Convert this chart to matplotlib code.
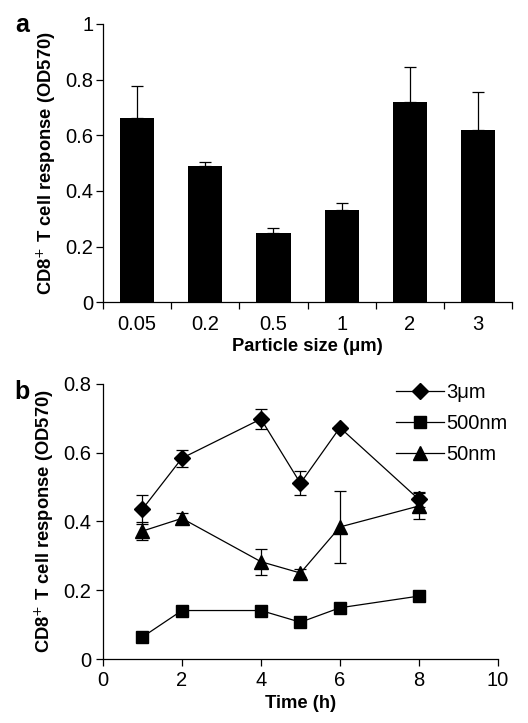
import matplotlib
matplotlib.use("Agg")
import matplotlib.pyplot as plt
from matplotlib.lines import Line2D
import numpy as np

plt.rcParams['font.family'] = ['Liberation Sans', 'DejaVu Sans']

# Panel a data
sizes = ["0.05", "0.2", "0.5", "1", "2", "3"]
bar_vals = [0.661, 0.489, 0.247, 0.331, 0.720, 0.619]
bar_err = [0.116, 0.014, 0.020, 0.027, 0.125, 0.137]

# Panel b data
times = [1, 2, 4, 5, 6, 8]
um3 = [0.436, 0.584, 0.698, 0.511, 0.673, 0.464]
um3_err = [0.042, 0.025, 0.028, 0.035, 0.006, 0.022]
nm500 = [0.064, 0.141, 0.141, 0.107, 0.149, 0.183]
nm500_err = [0.0, 0.0, 0.0, 0.0, 0.0, 0.0]
nm50 = [0.372, 0.409, 0.283, 0.250, 0.384, 0.445]
nm50_err = [0.025, 0.015, 0.038, 0.012, 0.104, 0.037]

TICK_FS = 14.5
LAB_FS = 13.2

fig = plt.figure(figsize=(5.28, 7.23), dpi=100)

# Panel a
ax1 = fig.add_axes([0.195, 0.582, 0.775, 0.385])
x = np.arange(len(sizes))
ax1.bar(x, bar_vals, width=0.5, color='black')
ax1.errorbar(x, bar_vals, yerr=[np.zeros(len(bar_err)), bar_err], fmt='none',
             ecolor='black', elinewidth=0.9, capsize=4, capthick=0.9)
ax1.set_xlim(-0.5, len(sizes) - 0.5)
ax1.set_ylim(0, 1)
ax1.set_yticks([0, 0.2, 0.4, 0.6, 0.8, 1])
ax1.set_yticklabels(["0", "0.2", "0.4", "0.6", "0.8", "1"])
ax1.set_xticks(x)
ax1.set_xticklabels(sizes)
ax1.tick_params(axis='x', which='major', length=0, pad=9)
ax1.set_xticks(np.arange(-0.5, len(sizes)), minor=True)
ax1.tick_params(axis='x', which='minor', length=5, width=0.9)
ax1.tick_params(axis='y', length=5, width=0.9, pad=2)
ax1.tick_params(labelsize=TICK_FS)
for s in ['top', 'right']:
    ax1.spines[s].set_visible(False)
for s in ['left', 'bottom']:
    ax1.spines[s].set_linewidth(0.9)
ax1.set_xlabel("Particle size (μm)", fontsize=LAB_FS, fontweight='bold', labelpad=3)
ax1.set_ylabel("CD8$^{+}$ T cell response (OD570)", fontsize=LAB_FS, fontweight='bold', labelpad=5)
fig.text(0.028, 0.965, "a", fontsize=18, fontweight='bold', va='center')

# Panel b
ax2 = fig.add_axes([0.195, 0.0885, 0.748, 0.3805])
ax2.errorbar(times, um3, yerr=um3_err, color='black', marker='D', markersize=8,
             linewidth=0.9, elinewidth=0.9, capsize=4, capthick=0.9)
ax2.errorbar(times, nm500, yerr=nm500_err, color='black', marker='s', markersize=9,
             linewidth=0.9, elinewidth=0.9, capsize=0)
ax2.errorbar(times, nm50, yerr=nm50_err, color='black', marker='^', markersize=10,
             linewidth=0.9, elinewidth=0.9, capsize=4, capthick=0.9)
ax2.set_xlim(0, 10)
ax2.set_ylim(0, 0.8)
ax2.set_xticks([0, 2, 4, 6, 8, 10])
ax2.set_yticks([0, 0.2, 0.4, 0.6, 0.8])
ax2.set_yticklabels(["0", "0.2", "0.4", "0.6", "0.8"])
ax2.tick_params(length=5, width=0.9, labelsize=TICK_FS)
for s in ['top', 'right']:
    ax2.spines[s].set_visible(False)
for s in ['left', 'bottom']:
    ax2.spines[s].set_linewidth(0.9)
ax2.set_xlabel("Time (h)", fontsize=LAB_FS, fontweight='bold', labelpad=4)
ax2.set_ylabel("CD8$^{+}$ T cell response (OD570)", fontsize=LAB_FS, fontweight='bold', labelpad=5)
handles = [
    Line2D([], [], color='black', marker='D', markersize=8, linewidth=0.9),
    Line2D([], [], color='black', marker='s', markersize=9, linewidth=0.9),
    Line2D([], [], color='black', marker='^', markersize=10, linewidth=0.9),
]
labels = ['3μm', '500nm', '50nm']
ax2.legend(handles, labels, loc='upper right', bbox_to_anchor=(1.07, 1.07), frameon=False,
           fontsize=TICK_FS, handlelength=2.4, labelspacing=0.6, handletextpad=0.1)
fig.text(0.028, 0.458, "b", fontsize=18, fontweight='bold', va='center')

fig.savefig("out.png", dpi=100)
